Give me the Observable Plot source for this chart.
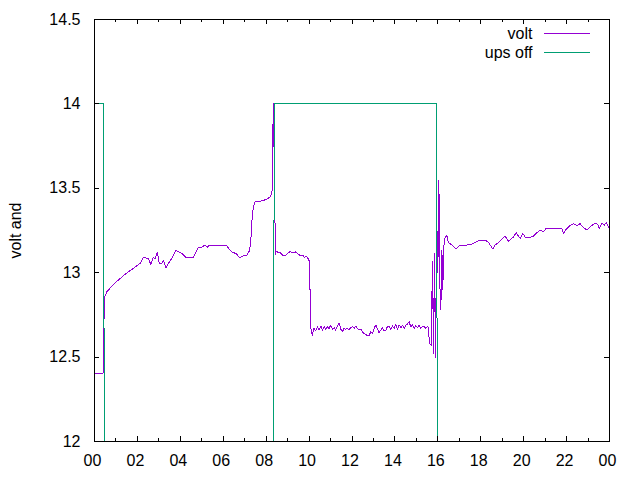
<!DOCTYPE html>
<html>
<head>
<meta charset="utf-8">
<script src="https://cdn.jsdelivr.net/npm/d3@7"></script>
<script src="https://cdn.jsdelivr.net/npm/@observablehq/plot@0.6"></script>
<style>
  html, body { margin: 0; padding: 0; background: #fff; }
  #chart svg { display: block; }
</style>
</head>
<body>
<div id="chart"></div>
<script>
// ---- data (hours since midnight, volts) ----
const voltTime = [
  0, 0.40, 0.41, 0.49, 0.57, 0.96, 1.42, 1.81, 2.12, 2.28, 2.51, 2.62, 2.74, 2.82, 2.93,
  3.02, 3.13, 3.21, 3.33, 3.44, 3.60, 3.71, 3.80, 3.91, 4.02, 4.11, 4.27, 4.61, 4.73, 4.84,
  5.00, 5.15, 5.26, 5.35, 6.16, 6.24, 6.40, 6.55, 6.63, 6.70, 6.78, 6.94, 7.10, 7.22, 7.28,
  7.34, 7.40, 7.48, 7.79, 8.03, 8.18, 8.26, 8.28, 8.30, 8.34, 8.41, 8.44, 8.46, 8.65, 8.73,
  8.80, 8.88, 8.99, 9.11, 9.27, 9.35, 9.50, 9.61, 9.71, 9.77, 9.86, 9.92, 10.01, 10.05,
  10.08, 10.15, 10.23, 10.31, 10.39, 10.47, 10.55, 10.62, 10.70, 10.78, 10.85, 10.93,
  11.01, 11.09, 11.17, 11.24, 11.32, 11.40, 11.48, 11.55, 11.63, 11.71, 11.79, 11.86, 11.94,
  12.02, 12.10, 12.18, 12.25, 12.33, 12.41, 12.48, 12.56, 12.64, 12.72, 12.80, 12.88, 12.95,
  13.03, 13.11, 13.18, 13.26, 13.34, 13.42, 13.50, 13.58, 13.65, 13.73, 13.81, 13.88, 13.96,
  14.04, 14.12, 14.20, 14.28, 14.35, 14.43, 14.51, 14.58, 14.66, 14.74, 14.82, 14.90, 14.97,
  15.05, 15.13, 15.21, 15.28, 15.36, 15.44, 15.52, 15.56,
  15.61, 15.69, 15.72, 15.75, 15.80, 15.84, 15.89, 15.95, 16.00, 16.05, 16.09, 16.14, 16.19,
  16.23, 16.28, 16.34, 16.42, 16.49, 16.65, 16.85, 17.04, 17.35, 17.59, 17.74, 17.89, 18.05,
  18.25, 18.36, 18.44, 18.56, 18.67, 18.83, 18.98, 19.14, 19.29, 19.40, 19.52, 19.65, 19.76,
  19.84, 19.96, 20.07, 20.30, 20.46, 20.58, 20.77, 20.92, 21.05, 21.78, 21.86, 21.98, 22.13,
  22.32, 22.48, 22.63, 22.76, 22.95, 23.07, 23.29, 23.44, 23.53, 23.65, 23.75, 23.85, 23.95, 24.0
];
const voltValue = [
  12.405, 12.405, 12.625, 12.86, 12.887, 12.94, 12.99, 13.026, 13.055, 13.09, 13.085, 13.05, 13.09, 13.08, 13.12,
  13.055, 13.055, 13.075, 13.03, 13.055, 13.085, 13.11, 13.134, 13.124, 13.118, 13.11, 13.09, 13.09, 13.124, 13.15,
  13.15, 13.164, 13.15, 13.164, 13.164, 13.144, 13.124, 13.115, 13.11, 13.094, 13.09, 13.099, 13.105, 13.13, 13.18,
  13.31, 13.39, 13.42, 13.425, 13.435, 13.45, 13.47, 13.49, 13.77, 14.0, 13.31, 13.11, 13.124, 13.12, 13.11,
  13.099, 13.099, 13.115, 13.124, 13.118, 13.124, 13.11, 13.099, 13.105, 13.09, 13.10, 13.09, 13.07, 12.867,
  12.67, 12.63, 12.67, 12.655, 12.68, 12.66, 12.685, 12.66, 12.68, 12.665, 12.68, 12.67,
  12.69, 12.665, 12.675, 12.66, 12.685, 12.70, 12.665, 12.65, 12.67, 12.665, 12.67, 12.66, 12.675,
  12.68, 12.67, 12.685, 12.67, 12.66, 12.665, 12.65, 12.64, 12.635, 12.625, 12.63, 12.65, 12.64,
  12.67, 12.69, 12.67, 12.645, 12.66, 12.675, 12.655, 12.66, 12.68, 12.68, 12.665, 12.685, 12.67,
  12.695, 12.665, 12.69, 12.675, 12.69, 12.67, 12.69, 12.695, 12.71, 12.68, 12.69, 12.67, 12.685,
  12.675, 12.69, 12.67, 12.68, 12.68, 12.67, 12.68, 12.675,
  12.58, 12.57, 12.82, 13.065, 12.52, 13.115, 12.50, 13.33, 13.0, 13.55, 12.94, 12.78, 13.134,
  12.90, 13.154, 13.21, 13.22, 13.18, 13.164, 13.14, 13.164, 13.164, 13.17, 13.18, 13.19, 13.19,
  13.19, 13.18, 13.164, 13.14, 13.164, 13.18, 13.198, 13.217, 13.186, 13.20, 13.21, 13.237, 13.217,
  13.204, 13.233, 13.21, 13.21, 13.217, 13.233, 13.253, 13.243, 13.263, 13.263, 13.23, 13.257, 13.276,
  13.29, 13.28, 13.29, 13.27, 13.253, 13.27, 13.29, 13.288, 13.263, 13.296, 13.28, 13.296, 13.27, 13.27
];
const upsTime  = [0, 0.41, 0.46, 8.34, 8.38, 15.93, 15.98, 24];
const upsValue = [14, 14, 12, 12, 14, 14, 12, 12];

const xMajor = [0, 2, 4, 6, 8, 10, 12, 14, 16, 18, 20, 22, 24];
const xMinor = [1, 3, 5, 7, 9, 11, 13, 15, 17, 19, 21, 23];
const xTickLabels = ["00", "02", "04", "06", "08", "10", "12", "14", "16", "18", "20", "22", "00"];
const yTicks = [12, 12.5, 13, 13.5, 14, 14.5];
const yTickLabels = ["12", "12.5", "13", "13.5", "14", "14.5"];
const seriesNames = ["volt", "ups off"];
const seriesColors = ["#9400d3", "#009e73"];

// ---- build ----
const volt = voltTime.map((t, i) => ({t, v: voltValue[i]}));
const ups = upsTime.map((t, i) => ({t, v: upsValue[i]}));

const W = 640, H = 480, mt = 19, mb = 39, ml = 94, mr = 31;
const innerH = H - mt - mb, innerW = W - ml - mr;
const FONT = "'Liberation Sans', Arial, sans-serif";
const FS = 16;

const chart = Plot.plot({
  width: W, height: H,
  marginTop: mt, marginBottom: mb, marginLeft: ml, marginRight: mr,
  style: {fontFamily: FONT, fontSize: FS + "px", color: "#000", background: "#fff"},
  x: {domain: [0, 24], label: null},
  y: {domain: [12, 14.5], label: null},
  marks: [
    Plot.line(volt, {x: "t", y: "v", stroke: seriesColors[0], strokeWidth: 1, clip: true, shapeRendering: "crispEdges"}),
    Plot.line(ups, {x: "t", y: "v", stroke: seriesColors[1], strokeWidth: 1, clip: true, shapeRendering: "crispEdges"}),
    Plot.frame({stroke: "#000", strokeWidth: 1, shapeRendering: "crispEdges"}),
    // inward ticks, mirrored
    Plot.ruleX(xMajor, {x: d => d, insetTop: innerH - 5, stroke: "#000", shapeRendering: "crispEdges"}),
    Plot.ruleX(xMajor, {x: d => d, insetBottom: innerH - 5, stroke: "#000", shapeRendering: "crispEdges"}),
    Plot.ruleX(xMinor, {x: d => d, insetTop: innerH - 3, stroke: "#000", shapeRendering: "crispEdges"}),
    Plot.ruleX(xMinor, {x: d => d, insetBottom: innerH - 3, stroke: "#000", shapeRendering: "crispEdges"}),
    Plot.ruleY(yTicks, {y: d => d, insetRight: innerW - 5, stroke: "#000", shapeRendering: "crispEdges"}),
    Plot.ruleY(yTicks, {y: d => d, insetLeft: innerW - 5, stroke: "#000", shapeRendering: "crispEdges"}),
    Plot.axisX(xMajor, {tickSize: 0, tickPadding: 13, dx: -2, fontSize: FS,
      tickFormat: d => xTickLabels[xMajor.indexOf(d)], label: null}),
    Plot.axisY(yTicks, {tickSize: 0, tickPadding: 14, fontSize: FS,
      tickFormat: d => yTickLabels[yTicks.indexOf(d)],
      label: "volt and", labelAnchor: "center", labelArrow: "none", labelOffset: 85}),
    // legend texts
    Plot.text([seriesNames[0]], {text: d => d, frameAnchor: "top-right", dx: -77, dy: 14.3, textAnchor: "end", lineAnchor: "middle", fontSize: FS}),
    Plot.text([seriesNames[1]], {text: d => d, frameAnchor: "top-right", dx: -77, dy: 33.7, textAnchor: "end", lineAnchor: "middle", fontSize: FS})
  ]
});

// legend sample lines
const svg = d3.select(chart);
[[33.5, seriesColors[0]], [52.5, seriesColors[1]]].forEach(([yy, c]) => {
  svg.append("line").attr("x1", 544).attr("x2", 590).attr("y1", yy).attr("y2", yy)
    .attr("stroke", c).attr("stroke-width", 1).attr("shape-rendering", "crispEdges");
});

document.getElementById("chart").appendChild(chart);
</script>
</body>
</html>
